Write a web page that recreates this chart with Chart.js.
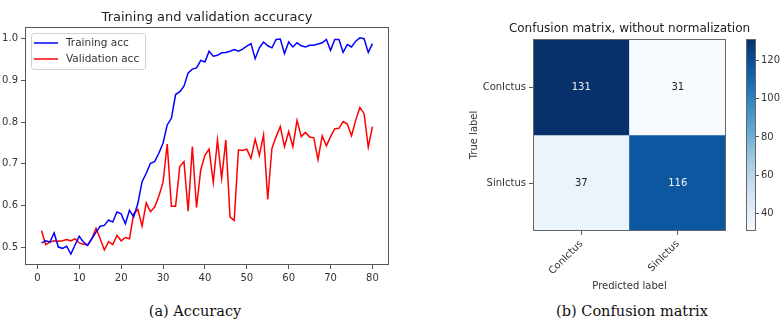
<!DOCTYPE html>
<html>
<head>
<meta charset="utf-8">
<script src="https://cdn.jsdelivr.net/npm/chart.js@4.4.1/dist/chart.umd.min.js"></script>
<style>
  body { margin: 0; background: #fff; }
  #wrap { position: relative; width: 784px; height: 320px; overflow: hidden; background: #fff; }
  canvas { position: absolute; top: 0; }
  .caption { position: absolute; top: 302px; line-height: 18px; font-family: "DejaVu Serif", serif; font-size: 14.5px; color: #111; text-align: center; }
</style>
</head>
<body>
<div id="wrap">
  <canvas id="accChart" width="400" height="290" style="left:0px"></canvas>
  <canvas id="cmChart" width="324" height="300" style="left:460px"></canvas>
  <canvas id="cbarChart" width="44" height="300" style="left:740px"></canvas>
  <div class="caption" style="left:95px;width:200px">(a) Accuracy</div>
  <div class="caption" style="left:532px;width:200px">(b) Confusion matrix</div>
</div>
<script>
// datos de la curva de entrenamiento
const epochs = Array.from({ length: 80 }, (_, i) => i + 1);
const trainAcc = [
  0.510, 0.515, 0.512, 0.534, 0.500, 0.497, 0.502, 0.483, 0.505, 0.526,
  0.512, 0.504, 0.520, 0.536, 0.550, 0.552, 0.565, 0.560, 0.584, 0.580,
  0.556, 0.588, 0.572, 0.605, 0.657, 0.677, 0.701, 0.705, 0.725, 0.749,
  0.793, 0.809, 0.866, 0.873, 0.886, 0.918, 0.927, 0.930, 0.948, 0.944,
  0.970, 0.958, 0.960, 0.966, 0.967, 0.970, 0.974, 0.970, 0.975, 0.982,
  0.988, 0.952, 0.978, 0.992, 0.983, 0.978, 0.998, 0.999, 0.964, 0.992,
  0.980, 0.990, 0.983, 0.980, 0.984, 0.984, 0.987, 0.990, 0.998, 0.972,
  0.998, 0.998, 0.967, 0.986, 0.980, 0.994, 1.002, 1.000, 0.967, 0.988
];
const valAcc = [
  0.539, 0.506, 0.512, 0.515, 0.514, 0.515, 0.518, 0.515, 0.520, 0.510,
  0.507, 0.505, 0.520, 0.545, 0.520, 0.493, 0.513, 0.506, 0.528, 0.515,
  0.523, 0.520, 0.580, 0.590, 0.550, 0.606, 0.585, 0.596, 0.622, 0.655,
  0.747, 0.598, 0.598, 0.693, 0.705, 0.586, 0.741, 0.595, 0.685, 0.720,
  0.735, 0.655, 0.757, 0.665, 0.757, 0.572, 0.564, 0.733, 0.732, 0.735,
  0.713, 0.759, 0.720, 0.769, 0.614, 0.737, 0.765, 0.789, 0.741, 0.777,
  0.741, 0.804, 0.765, 0.775, 0.764, 0.762, 0.710, 0.767, 0.743, 0.765,
  0.784, 0.785, 0.801, 0.795, 0.767, 0.804, 0.835, 0.820, 0.740, 0.789
];
const epochTicks = [0, 10, 20, 30, 40, 50, 60, 70, 80];
const accTicks = [0.5, 0.6, 0.7, 0.8, 0.9, 1.0];

// matriz de confusion
const classLabels = ['ConIctus', 'SinIctus'];
const confusion = [[131, 31], [37, 116]];
const cbarTicks = [40, 60, 80, 100, 120];

const vMin = Math.min(...confusion.flat());
const vMax = Math.max(...confusion.flat());

// mapa de color "Blues" de matplotlib
const bluesStops = ['#f7fbff', '#deebf7', '#c6dbef', '#9ecae1', '#6baed6', '#4292c6', '#2171b5', '#08519c', '#08306b'];
function hexRgb(h) {
  return [1, 3, 5].map(i => parseInt(h.slice(i, i + 2), 16));
}
function blues(t) {
  t = Math.min(1, Math.max(0, t));
  const pos = t * (bluesStops.length - 1);
  const i = Math.min(Math.floor(pos), bluesStops.length - 2);
  const f = pos - i;
  const a = hexRgb(bluesStops[i]), b = hexRgb(bluesStops[i + 1]);
  const c = a.map((v, k) => Math.round(v + (b[k] - v) * f));
  return `rgb(${c[0]}, ${c[1]}, ${c[2]})`;
}

const tickFont = { family: 'DejaVu Sans', size: 10 };
const titleFont = { family: 'DejaVu Sans', size: 13, weight: 'normal' };

// marco alrededor del area del grafico (spines)
const frame = {
  id: 'frame',
  afterDatasetsDraw(chart, args, opts) {
    const { ctx, chartArea: a } = chart;
    ctx.save();
    ctx.strokeStyle = opts.color || '#555';
    ctx.lineWidth = 1;
    ctx.strokeRect(Math.round(a.left) + 0.5, Math.round(a.top) + 0.5, Math.round(a.width) - 1, Math.round(a.height) - 1);
    ctx.restore();
  }
};

// titulo centrado sobre el area del grafico (puede ser mas ancho que ella)
const areaTitle = {
  id: 'areaTitle',
  afterDraw(chart, args, opts) {
    if (!opts.text) return;
    const { ctx, chartArea: a } = chart;
    ctx.save();
    ctx.font = '12px "DejaVu Sans"';
    ctx.fillStyle = '#222';
    ctx.textAlign = 'center';
    ctx.textBaseline = 'middle';
    ctx.fillText(opts.text, (a.left + a.right) / 2, opts.y);
    ctx.restore();
  }
};

// leyenda dentro del grafico, arriba a la izquierda
const boxLegend = {
  id: 'boxLegend',
  afterDatasetsDraw(chart) {
    const { ctx, chartArea: a } = chart;
    const x = Math.round(a.left) + 6, y = Math.round(a.top) + 6, w = 114, h = 36;
    ctx.save();
    ctx.fillStyle = 'rgba(255,255,255,0.85)';
    ctx.strokeStyle = '#d0d0d0';
    ctx.lineWidth = 1;
    ctx.beginPath();
    ctx.roundRect(x + 0.5, y + 0.5, w, h, 3);
    ctx.fill();
    ctx.stroke();
    ctx.font = '10.5px "DejaVu Sans"';
    ctx.textBaseline = 'middle';
    chart.data.datasets.forEach((ds, i) => {
      const ly = y + 10 + i * 16;
      ctx.strokeStyle = ds.borderColor;
      ctx.lineWidth = 1.5;
      ctx.beginPath();
      ctx.moveTo(x + 3, ly);
      ctx.lineTo(x + 27, ly);
      ctx.stroke();
      ctx.fillStyle = '#333';
      ctx.fillText(ds.label, x + 35, ly);
    });
    ctx.restore();
  }
};

// numeros dentro de cada celda
const cellText = {
  id: 'cellText',
  afterDatasetsDraw(chart) {
    const { ctx } = chart;
    const thresh = vMax / 2;
    ctx.save();
    ctx.font = '10px "DejaVu Sans"';
    ctx.textAlign = 'center';
    ctx.textBaseline = 'middle';
    chart.data.datasets.forEach((ds, r) => {
      chart.getDatasetMeta(r).data.forEach((bar, c) => {
        const v = confusion[r][c];
        const p = bar.getCenterPoint();
        ctx.fillStyle = v > thresh ? '#f4f4f4' : '#222';
        ctx.fillText(String(v), p.x, p.y);
      });
    });
    ctx.restore();
  }
};

// grafico de accuracy
new Chart(document.getElementById('accChart'), {
  type: 'line',
  data: {
    datasets: [
      {
        label: 'Training acc',
        data: epochs.map((e, i) => ({ x: e, y: trainAcc[i] })),
        borderColor: '#0000ff',
        borderWidth: 1.5,
        pointRadius: 0,
        tension: 0
      },
      {
        label: 'Validation acc',
        data: epochs.map((e, i) => ({ x: e, y: valAcc[i] })),
        borderColor: '#ff0000',
        borderWidth: 1.5,
        pointRadius: 0,
        tension: 0
      }
    ]
  },
  options: {
    responsive: false,
    animation: false,
    devicePixelRatio: 1,
    layout: { padding: { left: 0, right: 11, top: 0, bottom: 0 } },
    plugins: {
      legend: { display: false },
      tooltip: { enabled: false },
      frame: { color: '#555' },
      title: {
        display: true,
        text: 'Training and validation accuracy',
        fullSize: false,
        color: '#222',
        font: titleFont,
        padding: { top: 9.5, bottom: 1.9 }
      }
    },
    scales: {
      x: {
        type: 'linear',
        min: -2.95,
        max: 83.95,
        afterBuildTicks: s => { s.ticks = epochTicks.map(v => ({ value: v })); },
        afterFit: s => { s.height = 25; },
        ticks: { color: '#333', font: tickFont, padding: 3, maxRotation: 0, autoSkip: false },
        grid: { drawOnChartArea: false, tickLength: 4, color: '#555' },
        border: { display: false }
      },
      y: {
        min: 0.457,
        max: 1.028,
        afterBuildTicks: s => { s.ticks = accTicks.map(v => ({ value: v })); },
        afterFit: s => { s.width = 25; },
        ticks: { color: '#333', font: tickFont, padding: 3, callback: v => v.toFixed(1) },
        grid: { drawOnChartArea: false, tickLength: 4, color: '#555' },
        border: { display: false }
      }
    }
  },
  plugins: [frame, boxLegend]
});

// matriz de confusion como barras flotantes
new Chart(document.getElementById('cmChart'), {
  type: 'bar',
  data: {
    labels: classLabels,
    datasets: confusion.map((row, r) => ({
      label: classLabels[r],
      data: row.map(() => [r, r + 1]),
      backgroundColor: row.map(v => blues((v - vMin) / (vMax - vMin))),
      borderWidth: 0,
      grouped: false,
      categoryPercentage: 1,
      barPercentage: 1
    }))
  },
  options: {
    responsive: false,
    animation: false,
    devicePixelRatio: 1,
    layout: { padding: { left: 0, right: 58, top: 39, bottom: 0 } },
    plugins: {
      legend: { display: false },
      tooltip: { enabled: false },
      frame: { color: '#666' },
      areaTitle: { text: 'Confusion matrix, without normalization', y: 29 }
    },
    scales: {
      x: {
        type: 'category',
        offset: true,
        afterFit: s => { s.height = 69; },
        ticks: { color: '#333', font: tickFont, padding: 3, minRotation: 45, maxRotation: 45, autoSkip: false },
        grid: { offset: false, drawOnChartArea: false, tickLength: 4, color: '#555' },
        border: { display: false },
        title: { display: true, text: 'Predicted label', color: '#333', font: tickFont, padding: { top: 0, bottom: 8 } }
      },
      y: {
        min: 0,
        max: 2,
        reverse: true,
        afterBuildTicks: s => { s.ticks = classLabels.map((_, i) => ({ value: i + 0.5 })); },
        afterFit: s => { s.width = 73; },
        ticks: { color: '#333', font: tickFont, padding: 3, callback: v => classLabels[Math.floor(v)] },
        grid: { drawOnChartArea: false, tickLength: 4, color: '#555' },
        border: { display: false },
        title: { display: true, text: 'True label', color: '#333', font: tickFont, padding: { top: 8, bottom: 0 } }
      }
    }
  },
  plugins: [cellText, frame, areaTitle]
});

// barra de color
new Chart(document.getElementById('cbarChart'), {
  type: 'bar',
  data: {
    labels: [''],
    datasets: [{
      data: [[vMin, vMax]],
      backgroundColor: c => {
        const a = c.chart.chartArea;
        if (!a) return blues(0.5);
        const g = c.chart.ctx.createLinearGradient(0, a.bottom, 0, a.top);
        bluesStops.forEach((col, i) => g.addColorStop(i / (bluesStops.length - 1), col));
        return g;
      },
      borderWidth: 0,
      categoryPercentage: 1,
      barPercentage: 1
    }]
  },
  options: {
    responsive: false,
    animation: false,
    devicePixelRatio: 1,
    layout: { padding: { left: 6, right: 0, top: 39, bottom: 69 } },
    plugins: {
      legend: { display: false },
      tooltip: { enabled: false },
      frame: { color: '#666' }
    },
    scales: {
      x: { display: false },
      y: {
        position: 'right',
        min: vMin,
        max: vMax,
        afterBuildTicks: s => { s.ticks = cbarTicks.map(v => ({ value: v })); },
        afterFit: s => { s.width = 28; },
        ticks: { color: '#333', font: tickFont, padding: 2 },
        grid: { drawOnChartArea: false, tickLength: 3, color: '#555' },
        border: { display: false }
      }
    }
  },
  plugins: [frame]
});
</script>
</body>
</html>
